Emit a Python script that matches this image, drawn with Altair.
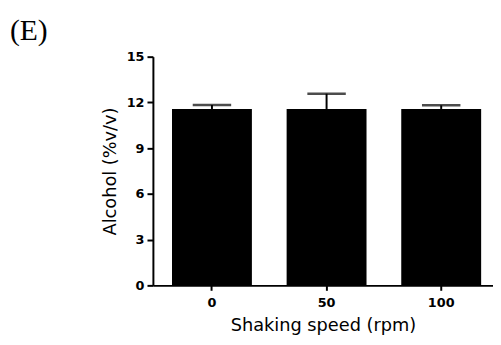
import altair as alt
import pandas as pd

speeds = ["0", "50", "100"]
means = [11.57, 11.57, 11.57]
errors = [0.26, 1.0, 0.24]
panel_label = ["(E)"]

df = pd.DataFrame({"speed": speeds, "mean": means, "err": errors})
df["upper"] = df["mean"] + df["err"]

FONT = "DejaVu Sans"

x_enc = alt.X(
    "speed:N",
    sort=speeds,
    scale=alt.Scale(paddingInner=0.303, paddingOuter=0.135, align=0.617),
    axis=alt.Axis(
        title="Shaking speed (rpm)",
        labelAngle=0,
        labelFont=FONT,
        labelFontWeight="bold",
        labelFontSize=13,
        labelColor="black",
        labelPadding=6,
        tickSize=5,
        tickWidth=2,
        tickColor="black",
        domainWidth=2,
        domainColor="black",
        titleFont=FONT,
        titleFontSize=18,
        titleFontWeight="normal",
        titleColor="black",
        titleBaseline="alphabetic",
        titleY=46,
    ),
)

y_axis = alt.Axis(
    title="Alcohol (%v/v)",
    values=[0, 3, 6, 9, 12, 15],
    grid=False,
    labelFont=FONT,
    labelFontWeight="bold",
    labelFontSize=13,
    labelColor="black",
    labelPadding=3,
    tickSize=6,
    tickWidth=2,
    tickColor="black",
    domainWidth=2,
    domainColor="black",
    titleFont=FONT,
    titleFontSize=18,
    titleFontWeight="normal",
    titleColor="black",
    titleBaseline="alphabetic",
    titleX=-38,
)

base = alt.Chart(df)
yscale = alt.Scale(domain=[0, 15], nice=False)

bars = base.mark_bar(color="black").encode(
    x=x_enc,
    y=alt.Y("mean:Q", scale=yscale, axis=y_axis),
)

stems = base.mark_rule(color="black", strokeWidth=2).encode(
    x=alt.X("speed:N", sort=speeds),
    y=alt.Y("mean:Q", scale=yscale),
    y2="upper:Q",
)

caps = base.mark_tick(color="black", size=39, thickness=2.5).encode(
    x=alt.X("speed:N", sort=speeds),
    y=alt.Y("upper:Q", scale=yscale),
)

label = alt.Chart(pd.DataFrame({"t": panel_label})).mark_text(
    font="Liberation Serif",
    fontSize=30,
    align="left",
    baseline="alphabetic",
    color="black",
).encode(
    text="t:N",
    x=alt.value(-145),
    y=alt.value(-17),
)

chart = (
    alt.layer(bars, stems, caps, label)
    .properties(
        width=345,
        height=232,
        background="white",
        autosize=alt.AutoSizeParams(type="none"),
        padding={"left": 147, "top": 47, "right": 0, "bottom": 50},
    )
    .configure_view(stroke="transparent", strokeWidth=0)
    .configure_axis(grid=False)
)

chart.save("out.html", embed_options={"renderer": "svg", "actions": False})
